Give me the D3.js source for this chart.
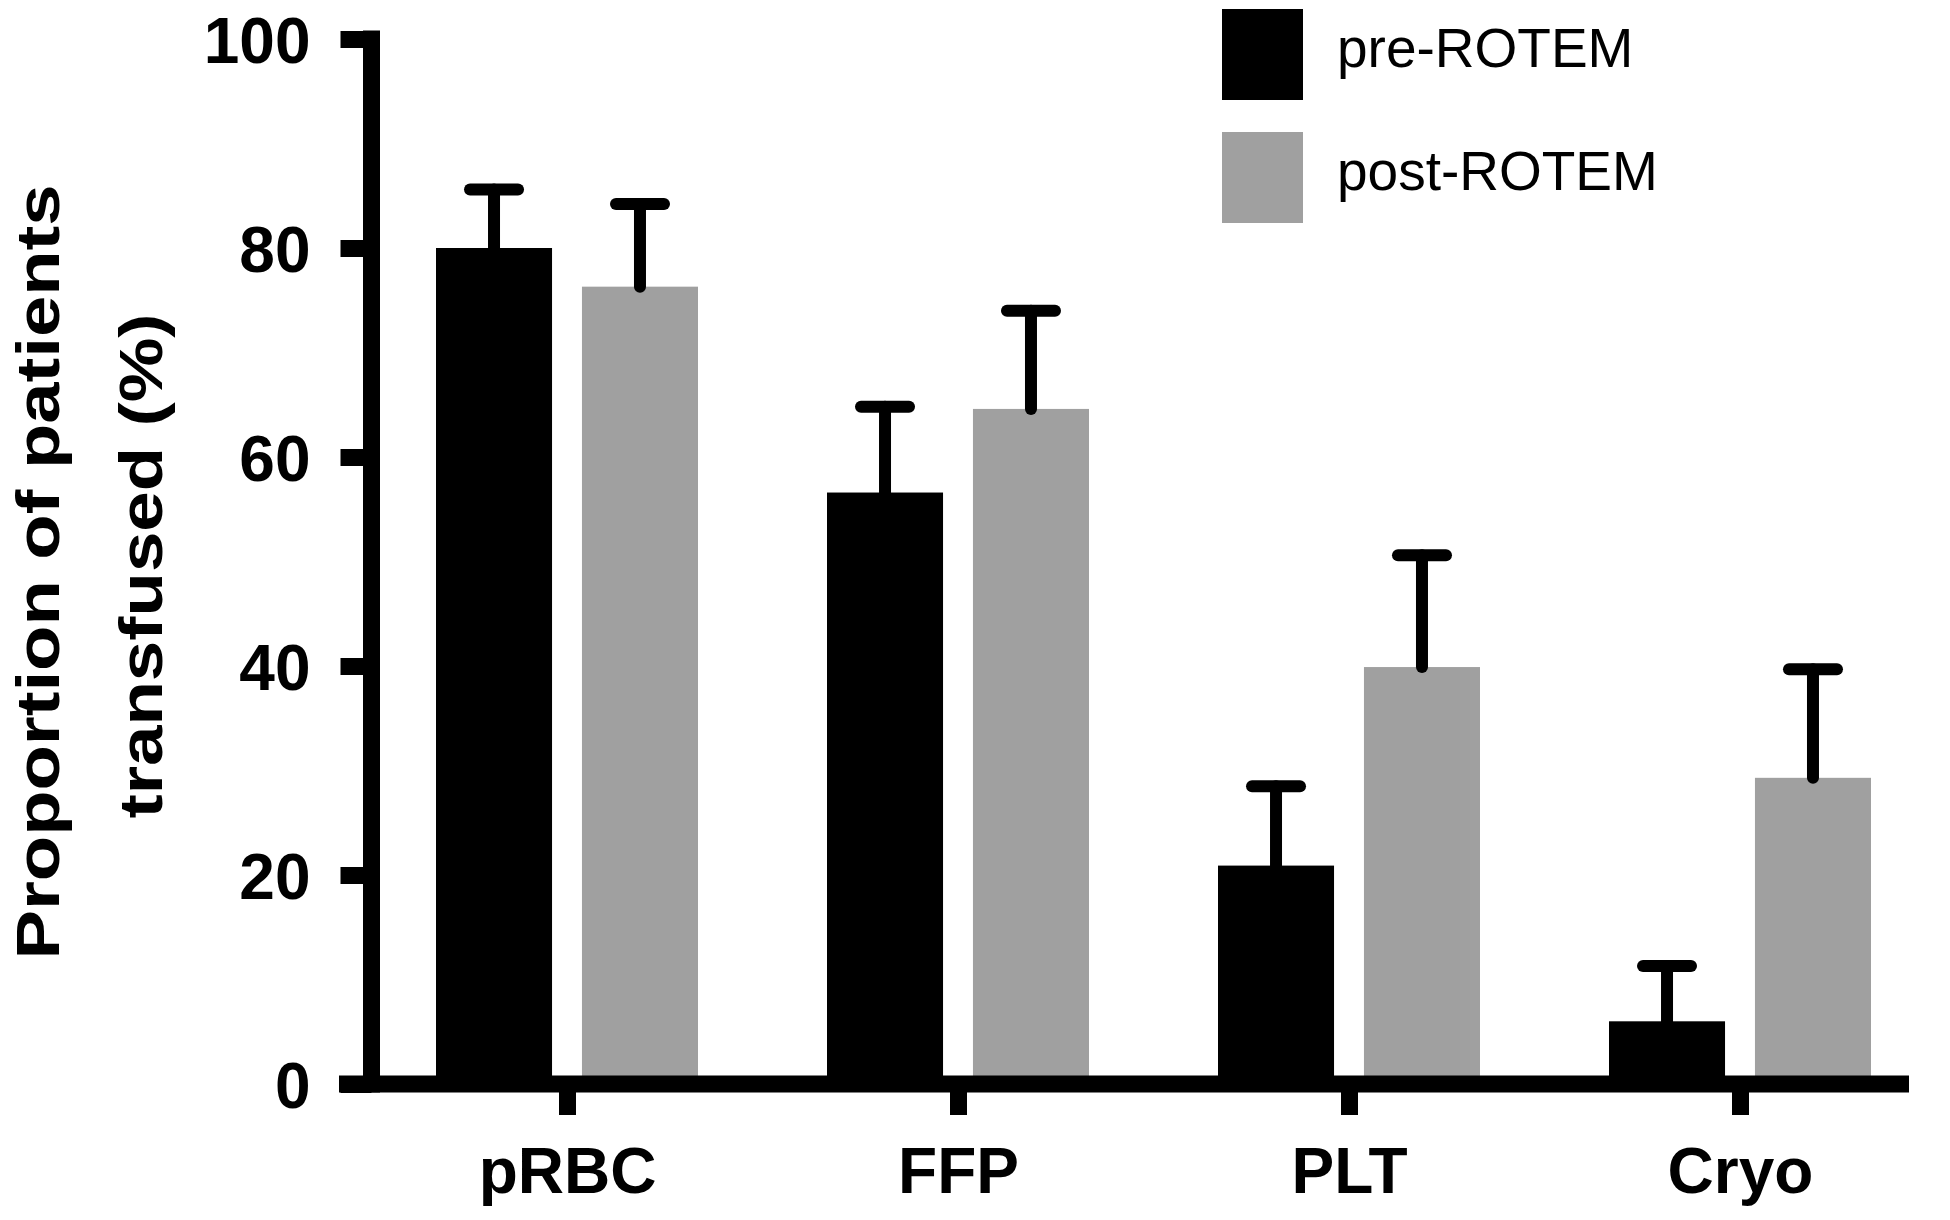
<!DOCTYPE html>
<html>
<head>
<meta charset="utf-8">
<script src="https://cdn.jsdelivr.net/npm/d3@7"></script>
<style>
  body { margin: 0; background: #fff; }
  svg { display: block; font-family: "Liberation Sans", Arial, Helvetica, sans-serif; }
</style>
</head>
<body>
<script>
// data
const categories = ["pRBC", "FFP", "PLT", "Cryo"];
const seriesNames = ["pre-ROTEM", "post-ROTEM"];
const preValues = [80, 56.6, 20.9, 6.0];
const preErrors = [5.6, 8.2, 7.6, 5.3];
const postValues = [76.3, 64.6, 39.9, 29.3];
const postErrors = [7.9, 9.4, 10.7, 10.4];
const yTicks = [0, 20, 40, 60, 80, 100];
const colors = ["#000000", "#a0a0a0"];

const width = 1950, height = 1220;

const svg = d3.select("body").append("svg")
    .attr("width", width)
    .attr("height", height);

// scales
const y = d3.scaleLinear().domain([0, 100]).range([1084, 39]);
const x = d3.scalePoint().domain(categories).range([567, 1740]);
const xSub = d3.scaleBand().domain(seriesNames).range([-131, 131]).paddingInner(0.205);

const rows = [];
categories.forEach((c, i) => {
    rows.push({ cat: c, series: seriesNames[0], value: preValues[i], err: preErrors[i] });
    rows.push({ cat: c, series: seriesNames[1], value: postValues[i], err: postErrors[i] });
});

const color = d3.scaleOrdinal().domain(seriesNames).range(colors);

// bars
svg.append("g")
    .selectAll("rect")
    .data(rows)
    .enter()
    .append("rect")
    .attr("x", d => x(d.cat) + xSub(d.series))
    .attr("y", d => y(d.value))
    .attr("width", xSub.bandwidth())
    .attr("height", d => y(0) - y(d.value))
    .attr("fill", d => color(d.series));

// error bars (upper only)
const errG = svg.append("g")
    .attr("stroke", "#000")
    .attr("stroke-width", 12)
    .attr("stroke-linecap", "round");

const cx = d => x(d.cat) + xSub(d.series) + xSub.bandwidth() / 2;

errG.selectAll("line.v")
    .data(rows)
    .enter()
    .append("line")
    .attr("class", "v")
    .attr("x1", cx)
    .attr("x2", cx)
    .attr("y1", d => y(d.value))
    .attr("y2", d => y(d.value + d.err));

errG.selectAll("line.h")
    .data(rows)
    .enter()
    .append("line")
    .attr("class", "h")
    .attr("x1", d => cx(d) - 24)
    .attr("x2", d => cx(d) + 24)
    .attr("y1", d => y(d.value + d.err))
    .attr("y2", d => y(d.value + d.err));

// y axis
const yAxis = d3.axisLeft(y)
    .tickValues(yTicks)
    .tickSize(31)
    .tickPadding(30)
    .tickFormat(d3.format("d"));

const yG = svg.append("g")
    .attr("transform", "translate(371.5,0)")
    .call(yAxis);

yG.select(".domain").remove();
yG.selectAll(".tick line")
    .attr("stroke", "#000")
    .attr("stroke-width", 17);
yG.selectAll(".tick text")
    .attr("font-size", 64)
    .attr("font-weight", "bold")
    .attr("fill", "#000")
    .attr("dy", "0.36em")
    .attr("x", -61);

yG.append("line")
    .attr("x1", 0)
    .attr("x2", 0)
    .attr("y1", y(100) - 8.5)
    .attr("y2", y(0) + 8.5)
    .attr("stroke", "#000")
    .attr("stroke-width", 17);

// x axis
const xAxis = d3.axisBottom(x)
    .tickSize(31)
    .tickPadding(0);

const xG = svg.append("g")
    .attr("transform", `translate(0,${y(0)})`)
    .call(xAxis);

xG.select(".domain").remove();
xG.selectAll(".tick line")
    .attr("stroke", "#000")
    .attr("stroke-width", 17);
xG.selectAll(".tick text")
    .attr("font-size", 64)
    .attr("font-weight", "bold")
    .attr("fill", "#000")
    .attr("dy", null)
    .attr("y", 109);

xG.append("line")
    .attr("x1", 339)
    .attr("x2", 1909)
    .attr("y1", 0)
    .attr("y2", 0)
    .attr("stroke", "#000")
    .attr("stroke-width", 17);

// y axis title
const title = svg.append("g")
    .attr("transform", "translate(0,572) rotate(-90)")
    .attr("font-weight", "bold")
    .attr("font-size", 62)
    .attr("text-anchor", "middle")
    .attr("fill", "#000");

title.append("text")
    .attr("x", 0)
    .attr("y", 59)
    .attr("textLength", 775)
    .attr("lengthAdjust", "spacingAndGlyphs")
    .text("Proportion of patients");

title.append("text")
    .attr("x", 6)
    .attr("y", 162)
    .attr("textLength", 505)
    .attr("lengthAdjust", "spacingAndGlyphs")
    .text("transfused (%)");

// legend
const legend = svg.append("g")
    .attr("class", "legend");

const legendTop = [9, 132];

legend.selectAll("rect")
    .data(seriesNames)
    .enter()
    .append("rect")
    .attr("x", 1222)
    .attr("y", (d, i) => legendTop[i])
    .attr("width", 81)
    .attr("height", 91)
    .attr("fill", d => color(d));

legend.selectAll("text")
    .data(seriesNames)
    .enter()
    .append("text")
    .attr("x", 1337)
    .attr("y", (d, i) => legendTop[i] + 58)
    .attr("font-size", 55)
    .attr("fill", "#000")
    .text(d => d);
</script>
</body>
</html>
